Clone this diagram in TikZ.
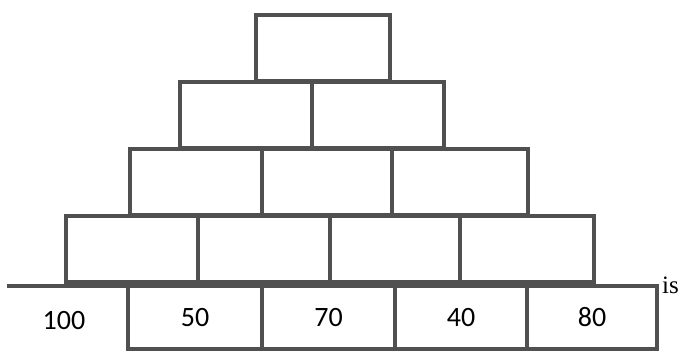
\documentclass[tikz,border=0pt]{standalone}
\usepackage{fontspec}
\setmainfont{Carlito}
\newfontfamily\serifx{Liberation Serif}
\definecolor{brick}{RGB}{80,80,80}
\begin{document}
\begin{tikzpicture}[x=1pt,y=-1pt,
  brickbox/.style={draw=brick,line width=3.8pt,minimum width=#1pt,minimum height=66pt,inner sep=0pt,outer sep=0pt,anchor=north west,font=\fontsize{28}{30}\selectfont},
  brickbox/.default=132]
\useasboundingbox (0,0) rectangle (685,352);
% row 1
\node[brickbox=134] (t) at (256,15) {};
% row 2
\node[brickbox] (r2a) at (180,82) {};
\node[brickbox] (r2b) at (312,82) {};
% row 3
\node[brickbox] (r3a) at (130,149) {};
\node[brickbox=130] (r3b) at (262,149) {};
\node[brickbox=136] (r3c) at (392,149) {};
% row 4
\node[brickbox] (r4a) at (66,216) {};
\node[brickbox] (r4b) at (198,216) {};
\node[brickbox=130] (r4c) at (330,216) {};
\node[brickbox=134] (r4d) at (460,216) {};
% row 5
\node[brickbox=134,minimum height=63pt] (b1) at (128,286) {50};
\node[brickbox=133,minimum height=63pt] (b2) at (262,286) {70};
\node[brickbox=132,minimum height=63pt] (b3) at (395,286) {40};
\node[brickbox=130,minimum height=63pt] (b4) at (527,286) {80};
\coordinate (lineL) at (7,286);
\draw[brick,line width=3.8pt] (lineL) -- (b1.north west);
\node[font=\fontsize{28}{30}\selectfont,inner sep=0pt] (n100) at (64,321) {100};
\node[font={\serifx\fontsize{25}{26}\selectfont},anchor=base west,inner sep=0pt] (is) at (662,294) {is};
\end{tikzpicture}
\end{document}
